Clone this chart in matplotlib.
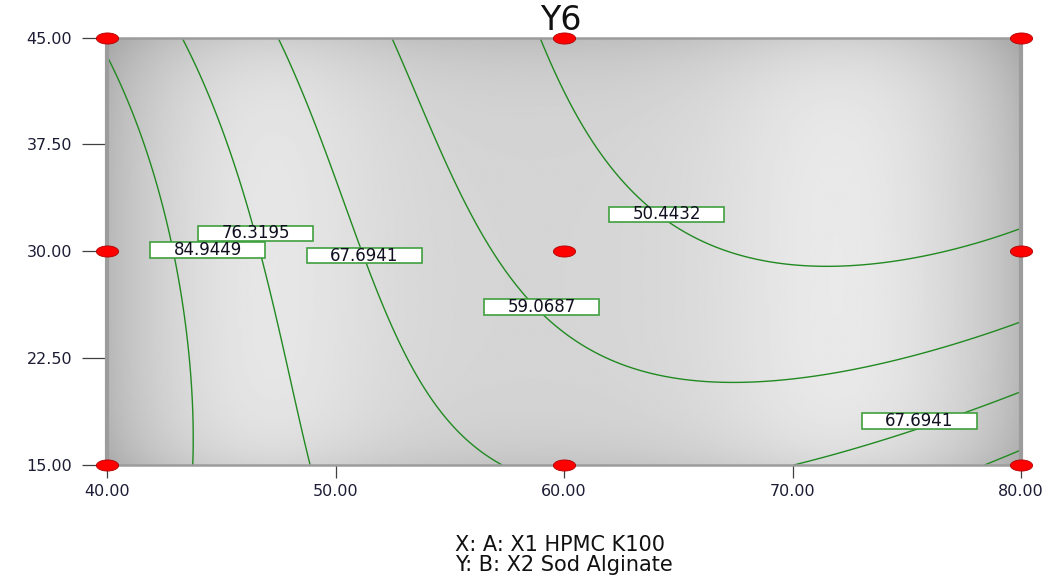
import numpy as np
import matplotlib
matplotlib.use("Agg")
import matplotlib.pyplot as plt
from matplotlib.path import Path
from matplotlib.patches import Rectangle

# ---- data ----
title = "Y6"
x_label = "X: A: X1 HPMC K100"
y_label = "Y: B: X2 Sod Alginate"
x_range = [40.0, 80.0]            # A: X1 HPMC K100
y_range = [15.0, 45.0]            # B: X2 Sod Alginate
x_ticks = [40.0, 50.0, 60.0, 70.0, 80.0]
y_ticks = [15.0, 22.5, 30.0, 37.5, 45.0]
# design points
design_x = [40, 40, 40, 60, 60, 60, 80, 80, 80]
design_y = [15, 30, 45, 15, 30, 45, 15, 30, 45]
# response model in coded units (A=(x-60)/20, B=(y-30)/15)
# terms: 1, A, B, AB, A^2, B^2, A^2B, AB^2, A^3, B^3
model_coef = [55.496, -20.154, -8.501, -6.680, 16.797, 2.350, -2.626, 6.318, 0.109, -0.023]
contour_levels = [50.4432, 59.0687, 67.6941, 76.3195, 84.9449]
# label positions (x, y, level)
label_x = [44.42, 46.52, 51.27, 59.02, 64.49, 75.56]
label_y = [30.09, 31.25, 29.70, 26.09, 32.58, 18.09]
label_lv = [84.9449, 76.3195, 67.6941, 59.0687, 50.4432, 67.6941]

# ---- figure ----
W, H = 1058, 577
fig = plt.figure(figsize=(W / 100, H / 100), dpi=100)
L, R, T, Bt = 107, 1021, 37.5, 465
ax = fig.add_axes([L / W, 1 - Bt / H, (R - L) / W, (Bt - T) / H])
ax.set_xlim(*x_range)
ax.set_ylim(*y_range)

# background shading
u = np.linspace(0, 1, 400)
v = np.linspace(0, 1, 300)
UU, VV = np.meshgrid(u, v)
base = (0.835 + 0.075 * np.exp(-((UU - 0.17) / 0.13) ** 2)
        + 0.085 * np.exp(-((UU - 0.81) / 0.15) ** 2))
edge = (1 - 0.15 * np.exp(-UU / 0.06) - 0.15 * np.exp(-(1 - UU) / 0.06)) * \
       (1 - 0.08 * np.exp(-VV / 0.07) - 0.11 * np.exp(-(1 - VV) / 0.09))
shade = np.clip(base * edge, 0, 1)
ax.imshow(shade, cmap='gray', vmin=0, vmax=1, extent=[*x_range, *y_range[::-1]],
          origin='upper', aspect='auto', zorder=0, interpolation='bilinear')

# response surface
gx = np.linspace(x_range[0], x_range[1], 300)
gy = np.linspace(y_range[0], y_range[1], 300)
GX, GY = np.meshgrid(gx, gy)
A = (GX - 60) / 20
B = (GY - 30) / 15
terms = [np.ones_like(A), A, B, A * B, A ** 2, B ** 2, A ** 2 * B, A * B ** 2, A ** 3, B ** 3]
Z = sum(c * t for c, t in zip(model_coef, terms))
ax.contour(GX, GY, Z, levels=contour_levels, colors='#218a21', linewidths=1.0, zorder=2)

# contour labels
bw, bh = 115 / 22.85, 15.5 / 14.25
for lx, ly, lv in zip(label_x, label_y, label_lv):
    ax.add_patch(Rectangle((lx - bw / 2, ly - bh / 2), bw, bh, facecolor='white',
                           edgecolor='#3f9f3f', linewidth=1.2, zorder=4))
    ax.text(lx, ly, f"{lv:.4f}", ha='center', va='center', fontsize=12,
            color='#101020', zorder=5)

# design points (ellipse markers)
t = np.linspace(0, 2 * np.pi, 41)
ell = Path(np.column_stack([np.cos(t), 0.5 * np.sin(t)]), closed=True)
ax.plot(design_x, design_y, linestyle='none', marker=ell, markersize=16,
        markerfacecolor='#ff0000', markeredgecolor='#b00000', markeredgewidth=0.6,
        clip_on=False, zorder=6)

# axes styling
ax.set_xticks(x_ticks)
ax.set_yticks(y_ticks)
ax.set_xticklabels([f"{v:.2f}" for v in x_ticks])
ax.set_yticklabels([f"{v:.2f}" for v in y_ticks])
ax.tick_params(axis='y', length=18, width=0.9, color='#404040', pad=7,
               labelsize=11.5, labelcolor='#1c1c34')
ax.tick_params(axis='x', length=9, width=0.9, color='#404040', pad=5,
               labelsize=11.5, labelcolor='#1c1c34')
for s in ['left', 'right']:
    ax.spines[s].set_color('#9c9c9c')
    ax.spines[s].set_linewidth(3)
for s in ['top', 'bottom']:
    ax.spines[s].set_color('#9c9c9c')
    ax.spines[s].set_linewidth(1.8)

fig.text(561 / W, 1 - 20 / H, title, ha='center', va='center', fontsize=24, color='#111111')
fig.text(564 / W, 1 - 555 / H, x_label + "\n" + y_label, ha='center', va='center',
         multialignment='left', fontsize=15, linespacing=0.95, color='#111111')

fig.savefig("out.png", dpi=100)
